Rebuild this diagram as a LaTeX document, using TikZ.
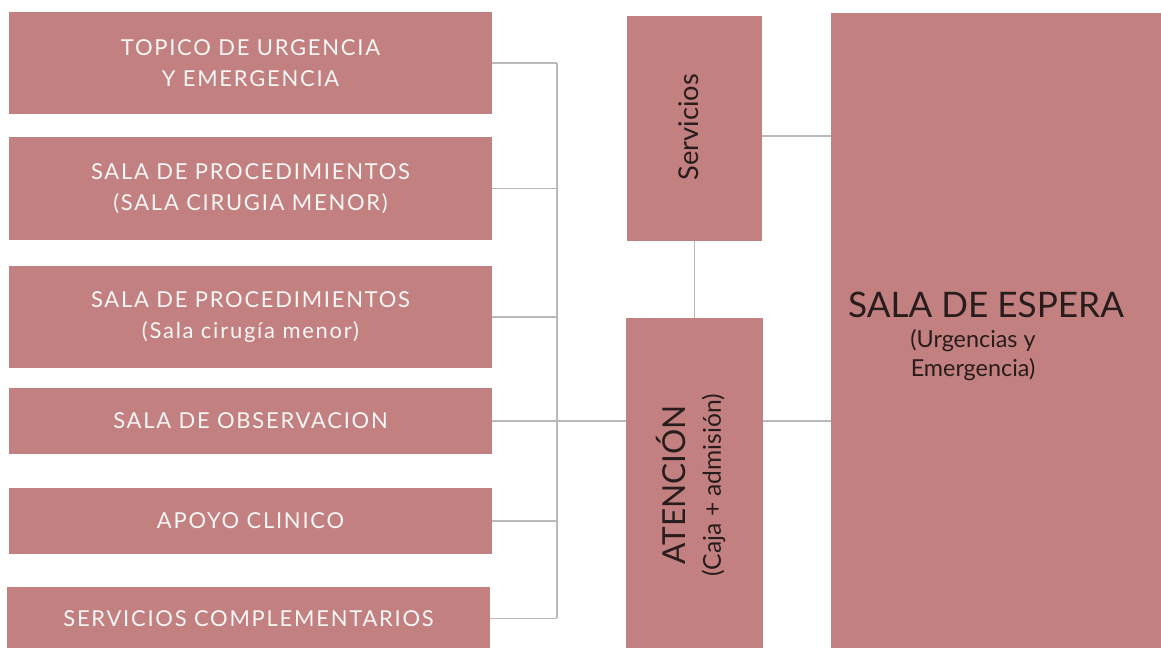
\documentclass[tikz,border=0pt]{standalone}
\usepackage{fontspec}
\setmainfont{Lato}
\newfontfamily\widefont{Lato}[LetterSpace=8]
\usetikzlibrary{positioning}
\definecolor{roomfill}{RGB}{195,128,128}
\definecolor{linkgray}{RGB}{185,185,185}
\definecolor{darktext}{RGB}{40,28,28}

\begin{document}
\begin{tikzpicture}[
  x=0.02cm, y=-0.02cm,
  room/.style={fill=roomfill, inner sep=0pt, minimum width=9.66cm, align=center, text=white!94!roomfill, font=\widefont\fontsize{12.5}{18}\selectfont},
  block/.style={fill=roomfill, inner sep=0pt},
  darklbl/.style={align=center, text=darktext, inner sep=0pt},
  link/.style={draw=linkgray, line width=0.6pt}
]
  \useasboundingbox (0,0) rectangle (1161,648);

  % areas on the left
  \node[room, minimum height=2.04cm] (topico) at (250.5,63) {TOPICO DE URGENCIA\\ Y EMERGENCIA};
  \node[room, minimum height=2.06cm] (proc1) at (250.5,188.5) {SALA DE PROCEDIMIENTOS\\ (SALA CIRUGIA MENOR)};
  \node[room, minimum height=2.04cm] (proc2) at (250.5,317) {SALA DE PROCEDIMIENTOS\\ (Sala cirugía menor)};
  \node[room, minimum height=1.32cm] (obs) at (250.5,421) {SALA DE OBSERVACION};
  \node[room, minimum height=1.32cm] (apoyo) at (250.5,521) {APOYO CLINICO};
  \node[room, minimum height=1.26cm] (compl) at (248.5,618.5) {SERVICIOS COMPLEMENTARIOS};

  % middle and right
  \node[block, minimum width=2.7cm, minimum height=4.5cm] (serv) at (694.5,128.5) {};
  \node[darklbl, rotate=90, font=\fontsize{15.5}{18}\selectfont] (servtxt) at (689,127) {Servicios};
  \node[block, minimum width=2.74cm, minimum height=6.64cm] (aten) at (694.5,484) {};
  \node[darklbl, rotate=90, font=\fontsize{14}{20}\selectfont] (atentxt) at (691,485)
    {{\fontsize{18}{20}\selectfont ATENCIÓN}\\ (Caja + admisión)};
  \node[block, minimum width=6.64cm, minimum height=12.74cm] (sala) at (997,331.5) {};
  \node[darklbl, font=\fontsize{20}{24}\selectfont] (salatxt) at (986,305) {SALA DE ESPERA};
  \node[darklbl, font=\fontsize{13.3}{16.5}\selectfont, below=0.22cm of salatxt.south, anchor=north, xshift=-0.26cm] (salasub)
    {(Urgencias y\\ Emergencia)};

  % connectors
  \coordinate (bus) at (557,0);
  \foreach \r in {topico,proc1,proc2,apoyo,compl}
    \draw[link] (\r.east) -- (\r.east -| bus);
  \draw[link] (topico.east -| bus) -- (compl.east -| bus);
  \draw[link] (obs.east) -- (obs.east -| aten.west);
  \draw[link] (obs.east -| aten.east) -- (obs.east -| sala.west);
  \draw[link] ([yshift=-0.15cm]serv.east) -- ([yshift=-0.15cm]serv.east -| sala.west);
  \draw[link] (serv.south) -- (aten.north);
\end{tikzpicture}
\end{document}
